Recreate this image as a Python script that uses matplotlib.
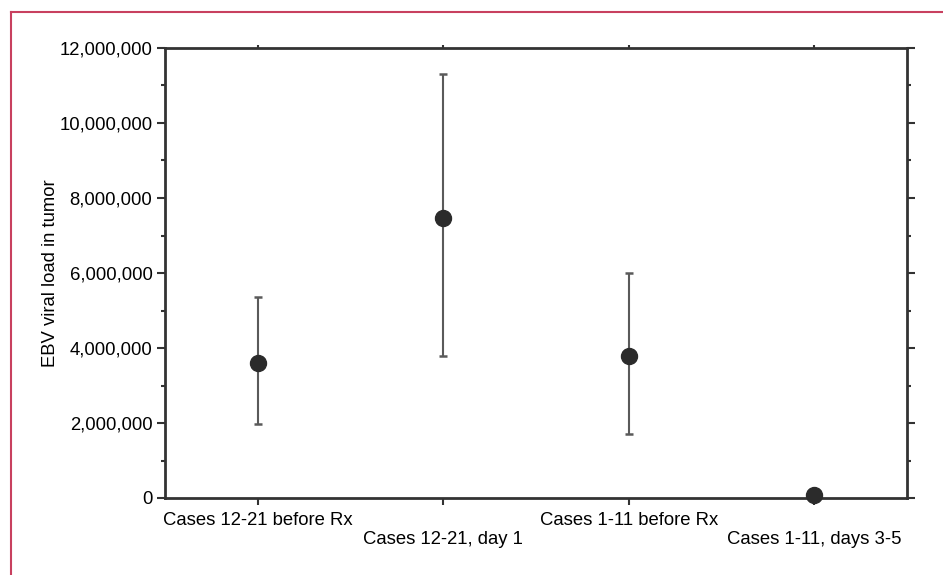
import matplotlib
matplotlib.use("Agg")
import matplotlib.pyplot as plt
from matplotlib.lines import Line2D
from matplotlib.ticker import FuncFormatter, MultipleLocator

plt.rcParams['font.family'] = ['Liberation Sans', 'DejaVu Sans']

categories = ["Cases 12-21 before Rx", "Cases 12-21, day 1",
              "Cases 1-11 before Rx", "Cases 1-11, days 3-5"]
means = [3600000, 7470000, 3790000, 80000]
upper = [5360000, 11310000, 6000000, 80000]
lower = [1970000, 3780000, 1710000, 80000]
yticks = [0, 2000000, 4000000, 6000000, 8000000, 10000000, 12000000]

W, H = 943, 575
fig = plt.figure(figsize=(W / 100, H / 100), dpi=100)
ax = fig.add_axes([165 / W, 1 - 498 / H, (907 - 165) / W, (498 - 48) / H])

x = list(range(len(categories)))
err_lo = [m - l for m, l in zip(means, lower)]
err_hi = [u - m for m, u in zip(means, upper)]
ax.errorbar(x, means, yerr=[err_lo, err_hi], fmt='none', ecolor='#5a5a5a',
            elinewidth=1.5, capsize=3, capthick=1.8, zorder=2)
ax.plot(x, means, 'o', color='#2b2b2b', markersize=11.5, zorder=3, clip_on=False)

ax.set_xlim(-0.5, 3.5)
ax.set_ylim(0, 12000000)
ax.set_yticks(yticks)
ax.yaxis.set_minor_locator(MultipleLocator(1000000))
ax.yaxis.set_major_formatter(FuncFormatter(lambda v, p: f"{int(v):,}"))
ax.set_xticks(x)
ax.set_xticklabels([c if i % 2 == 0 else "\n" + c for i, c in enumerate(categories)])

for s in ax.spines.values():
    s.set_linewidth(2)
    s.set_color('#333333')

ax.tick_params(axis='y', which='major', left=True, right=True, direction='out',
               length=6, width=1.5, color='#333333', labelsize=13.3, pad=3)
ax.tick_params(axis='y', which='minor', left=True, right=True, direction='out',
               length=3, width=1.5, color='#333333')
ax.tick_params(axis='x', which='major', bottom=True, top=True, direction='out',
               length=5, width=1.5, color='#333333', labelsize=13.3, pad=5)
for t in ax.xaxis.get_major_ticks():
    t.tick2line.set_markersize(2)

ax.set_ylabel("EBV viral load in tumor", fontsize=13.3)
ax.yaxis.set_label_coords(-0.143, 0.5)

border_color = '#c8405f'
fig.add_artist(Line2D([11 / W, 11 / W], [0, 1 - 12 / H], color=border_color,
                      linewidth=1.5, transform=fig.transFigure))
fig.add_artist(Line2D([11 / W, 1], [1 - 12 / H, 1 - 12 / H], color=border_color,
                      linewidth=1.5, transform=fig.transFigure))

fig.savefig("out.png", dpi=100, facecolor='white')
